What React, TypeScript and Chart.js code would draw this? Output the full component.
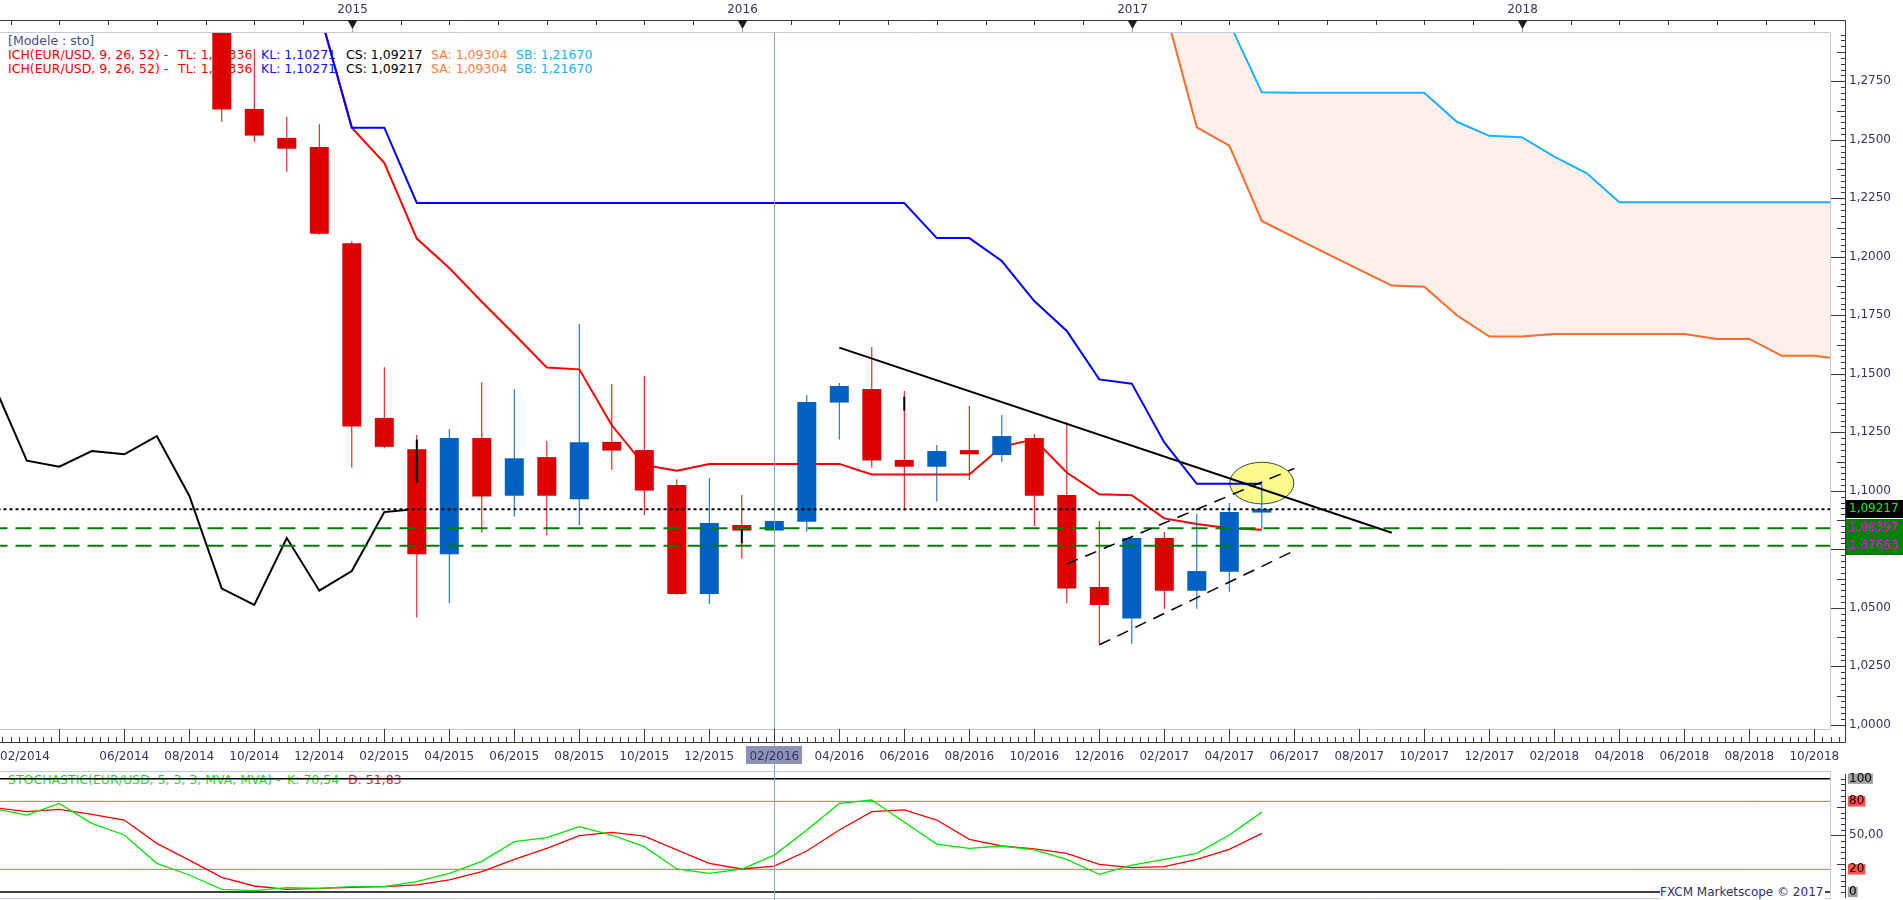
import React, { useEffect, useRef } from 'react';
import { Chart, registerables } from 'chart.js';

Chart.register(...registerables);

// Time is a month index: 0 = 01/2014, 12 = 01/2015, 24 = 01/2016 ...
const CANDLE_T = [8, 9, 10, 11, 12, 13, 14, 15, 16, 17, 18, 19, 20, 21, 22, 23, 24, 25, 26, 27, 28, 29, 30, 31, 32, 33, 34, 35, 36, 37, 38, 39, 40];
const OPEN = [1.3130, 1.2632, 1.2508, 1.2469, 1.2058, 1.1311, 1.1178, 1.0729, 1.1226, 1.0979, 1.1144, 1.0964, 1.1209, 1.1174, 1.1025, 1.0559, 1.0854, 1.0830, 1.0868, 1.1377, 1.1435, 1.1132, 1.1103, 1.1174, 1.1153, 1.1226, 1.0982, 1.0589, 1.0454, 1.0798, 1.0573, 1.0654, 1.0907];
const HIGH = [1.3190, 1.2887, 1.2598, 1.2567, 1.2066, 1.1528, 1.1239, 1.1263, 1.1464, 1.1435, 1.1213, 1.1713, 1.1456, 1.1491, 1.1049, 1.1055, 1.0982, 1.0871, 1.1409, 1.1461, 1.1615, 1.1427, 1.1196, 1.1362, 1.1324, 1.1243, 1.1293, 1.0871, 1.0804, 1.0824, 1.0901, 1.0948, 1.1025];
const LOW = [1.2577, 1.2492, 1.2364, 1.2095, 1.1100, 1.1182, 1.0459, 1.0521, 1.0822, 1.0889, 1.0809, 1.0853, 1.1089, 1.0897, 1.0557, 1.0516, 1.0710, 1.0830, 1.0825, 1.1219, 1.1099, 1.0915, 1.0954, 1.1046, 1.1123, 1.0850, 1.0519, 1.0345, 1.0345, 1.0496, 1.0496, 1.0569, 1.0838];
const CLOSE = [1.2629, 1.2518, 1.2462, 1.2099, 1.1275, 1.1188, 1.0729, 1.1226, 1.0976, 1.1139, 1.0979, 1.1208, 1.1172, 1.1001, 1.0559, 1.0862, 1.0830, 1.0871, 1.1380, 1.1448, 1.1129, 1.1103, 1.1170, 1.1156, 1.1234, 1.0979, 1.0582, 1.0512, 1.0798, 1.0573, 1.0657, 1.0909, 1.0922];

const MARK_T = [14, 24, 29];
const MARK_LOW = [1.1035, 1.0776, 1.1342];
const MARK_HIGH = [1.1219, 1.0840, 1.1402];

const TENKAN_T = [11, 12, 13, 14, 15, 16, 17, 18, 19, 20, 21, 22, 23, 24, 25, 26, 27, 28, 29, 30, 31, 32, 33, 34, 35, 36, 37, 38, 39, 40];
const TENKAN = [1.3050, 1.2552, 1.2402, 1.2078, 1.1952, 1.1808, 1.1669, 1.1527, 1.1519, 1.1280, 1.1110, 1.1086, 1.1115, 1.1115, 1.1115, 1.1115, 1.1115, 1.1070, 1.1070, 1.1070, 1.1070, 1.1189, 1.1220, 1.1078, 1.0985, 1.0981, 1.0882, 1.0858, 1.0840, 1.0834];

const KIJUN_T = [11, 12, 13, 14, 15, 16, 17, 18, 19, 20, 21, 22, 23, 24, 25, 26, 27, 28, 29, 30, 31, 32, 33, 34, 35, 36, 37, 38, 39, 40];
const KIJUN = [1.3050, 1.2552, 1.2552, 1.2230, 1.2230, 1.2230, 1.2230, 1.2230, 1.2230, 1.2230, 1.2230, 1.2230, 1.2230, 1.2230, 1.2230, 1.2230, 1.2230, 1.2230, 1.2230, 1.2080, 1.2080, 1.1982, 1.1811, 1.1683, 1.1476, 1.1458, 1.1207, 1.1030, 1.1030, 1.1030];

const CHIKOU_T = [0, 1, 2, 3, 4, 5, 6, 7, 8, 9, 10, 11, 12, 13, 14];
const CHIKOU = [1.1380, 1.1448, 1.1129, 1.1103, 1.1170, 1.1156, 1.1234, 1.0979, 1.0582, 1.0512, 1.0798, 1.0573, 1.0657, 1.0909, 1.0922];

const SENKOU_T = [37, 38, 39, 40, 41, 42, 43, 44, 45, 46, 47, 48, 49, 50, 51, 52, 53, 54, 55, 56, 57, 58];
const SENKOU_A = [1.3070, 1.2553, 1.2475, 1.2153, 1.2083, 1.2014, 1.1945, 1.1877, 1.1872, 1.1750, 1.1659, 1.1659, 1.1670, 1.1670, 1.1670, 1.1670, 1.1670, 1.1649, 1.1649, 1.1577, 1.1577, 1.1560];
const SENKOU_B = [1.3300, 1.3200, 1.3000, 1.2703, 1.2701, 1.2701, 1.2701, 1.2701, 1.2701, 1.2577, 1.2517, 1.2511, 1.2428, 1.2357, 1.2233, 1.2233, 1.2233, 1.2233, 1.2233, 1.2233, 1.2233, 1.2233];

const LAST_CLOSE = 1.09217;
const SUPPORT_LEVELS = [1.08397, 1.07653];
const TREND_T = [27, 44];
const TREND_V = [1.1612, 1.0821];
const CHANNEL_UP_T = [34, 41];
const CHANNEL_UP_V = [1.0687, 1.1096];
const CHANNEL_LO_T = [35, 41];
const CHANNEL_LO_V = [1.0342, 1.0744];
const HIGHLIGHT_T = 40.0;
const HIGHLIGHT_V = 1.1033;
const HIGHLIGHT_HALF_T = 0.985;
const HIGHLIGHT_HALF_V = 0.0089;
const CURSOR_T = 25;

const STOCH_T = [1, 2, 3, 4, 5, 6, 7, 8, 9, 10, 11, 12, 13, 14, 15, 16, 17, 18, 19, 20, 21, 22, 23, 24, 25, 26, 27, 28, 29, 30, 31, 32, 33, 34, 35, 36, 37, 38, 39, 40];
const STOCH_K = [73.4, 67.9, 78.2, 60.6, 50.3, 25.3, 15.0, 2.4, 1.2, 3.8, 3.2, 4.7, 4.7, 9.1, 16.5, 27.0, 44.4, 47.9, 57.6, 50.3, 40.0, 20.3, 16.5, 20.3, 32.6, 54.7, 78.2, 81.2, 61.5, 42.3, 38.5, 40.6, 37.1, 28.8, 15.6, 23.8, 28.8, 34.1, 50.3, 70.5];
const STOCH_D = [74.4, 70.9, 72.9, 68.5, 63.5, 42.9, 28.2, 12.9, 5.3, 2.4, 3.2, 4.1, 4.7, 6.2, 10.6, 17.9, 28.8, 38.5, 49.7, 52.6, 49.4, 37.1, 25.3, 20.3, 22.9, 36.2, 54.7, 70.9, 72.4, 63.5, 46.5, 40.6, 38.0, 34.1, 24.4, 21.5, 22.4, 28.8, 37.6, 51.8];
const STOCH_OUTER = [100, 0];
const STOCH_INNER = [80, 20];

const X_MIN = 1.1754;
const X_MAX = 57.483;
const Y_MIN = 0.99821;
const Y_MAX = 1.29607;
const STOCH_MIN = -5.3;
const STOCH_MAX = 106.8;

const MONTH_TICK_T = [5, 7, 9, 11, 13, 15, 17, 19, 21, 23, 25, 27, 29, 31, 33, 35, 37, 39, 41, 43, 45, 47, 49, 51, 53, 55, 57];
const MONTH_TICK_LABELS = ['06/2014', '08/2014', '10/2014', '12/2014', '02/2015', '04/2015', '06/2015', '08/2015', '10/2015', '12/2015', '02/2016', '04/2016', '06/2016', '08/2016', '10/2016', '12/2016', '02/2017', '04/2017', '06/2017', '08/2017', '10/2017', '12/2017', '02/2018', '04/2018', '06/2018', '08/2018', '10/2018'];
const FIRST_MONTH_LABEL = '02/2014';
const YEAR_T = [12, 24, 36, 48];
const YEAR_LABELS = ['2015', '2016', '2017', '2018'];
const PRICE_TICKS = [1.0, 1.025, 1.05, 1.075, 1.1, 1.125, 1.15, 1.175, 1.2, 1.225, 1.25, 1.275];
const PRICE_TICK_LABELS = ['1,0000', '1,0250', '1,0500', '1,0750', '1,1000', '1,1250', '1,1500', '1,1750', '1,2000', '1,2250', '1,2500', '1,2750'];
const PRICE_MARKERS = [1.09217, 1.08397, 1.07653];
const PRICE_MARKER_LABELS = ['1,09217', '1,08397', '1,07653'];
const STOCH_TICKS = [0, 20, 50, 80, 100];
const STOCH_TICK_LABELS = ['0', '20', '50,00', '80', '100'];

const FONT = '"DejaVu Sans", Verdana, sans-serif';
const AXIS_TEXT = '#34345e';
const AXIS_DARK = '#3a3a3a';
const FRAME_LIGHT = '#c2cadb';
const BULL = '#0061c2';
const BEAR = '#dc0000';
const CLOUD = '#fdefe9';
const CURSOR_COLOR = '#8f9dca';

Chart.defaults.font.family = FONT;
Chart.defaults.font.size = 12;

const pts = (ts: number[], vs: number[]) => ts.map((t, i) => ({ x: t, y: vs[i] }));
const crisp = (v: number) => Math.round(v) + 0.5;
const flat = (v: number) => [{ x: X_MIN - 1, y: v }, { x: X_MAX + 1, y: v }];

const mainDecor = {
  id: 'mainDecor',
  beforeDraw(chart: any) {
    const { ctx } = chart;
    const cx = Math.round(chart.scales.x.getPixelForValue(CURSOR_T));
    ctx.save();
    ctx.fillStyle = '#8b93b8';
    ctx.fillRect(cx - 28, 746, 56, 18);
    ctx.restore();
  },
  beforeDatasetsDraw(chart: any) {
    const { ctx } = chart;
    const { x, y } = chart.scales;
    const cx = x.getPixelForValue(HIGHLIGHT_T);
    const cy = y.getPixelForValue(HIGHLIGHT_V);
    const rx = Math.abs(x.getPixelForValue(HIGHLIGHT_T + HIGHLIGHT_HALF_T) - cx);
    const ry = Math.abs(y.getPixelForValue(HIGHLIGHT_V + HIGHLIGHT_HALF_V) - cy);
    ctx.save();
    ctx.beginPath();
    ctx.ellipse(cx, cy, rx, ry, 0, 0, Math.PI * 2);
    ctx.fillStyle = '#fbfb8d';
    ctx.fill();
    ctx.lineWidth = 1;
    ctx.strokeStyle = '#444444';
    ctx.stroke();
    ctx.restore();
  },
  afterDatasetsDraw(chart: any) {
    const { ctx, chartArea: a } = chart;
    const cx = crisp(chart.scales.x.getPixelForValue(CURSOR_T));
    ctx.save();
    ctx.strokeStyle = CURSOR_COLOR;
    ctx.lineWidth = 1;
    ctx.beginPath();
    ctx.moveTo(cx, a.top);
    ctx.lineTo(cx, 746);
    ctx.moveTo(cx, 764);
    ctx.lineTo(cx, chart.height);
    ctx.stroke();
    ctx.restore();
  },
  afterDraw(chart: any) {
    const { ctx, chartArea: a } = chart;
    const { x, y } = chart.scales;
    const axisX = a.right + 15;
    const topY = 20;
    const bottomY = a.bottom + 13;
    ctx.save();
    ctx.lineWidth = 1;
    ctx.strokeStyle = FRAME_LIGHT;
    ctx.beginPath();
    ctx.moveTo(0, a.top + 0.5);
    ctx.lineTo(a.right + 0.5, a.top + 0.5);
    ctx.lineTo(a.right + 0.5, a.bottom + 0.5);
    ctx.lineTo(0, a.bottom + 0.5);
    ctx.stroke();

    ctx.strokeStyle = AXIS_DARK;
    ctx.beginPath();
    ctx.moveTo(0, topY + 0.5);
    ctx.lineTo(axisX + 0.5, topY + 0.5);
    ctx.lineTo(axisX + 0.5, bottomY + 0.5);
    ctx.lineTo(0, bottomY + 0.5);
    for (let k = -30; k < 60; k++) {
      const px = x.getPixelForValue(YEAR_T[0] + 1.5 * k);
      if (px < 0 || px > axisX) continue;
      ctx.moveTo(crisp(px), topY);
      ctx.lineTo(crisp(px), topY + 5);
    }
    for (let q = Math.ceil(X_MIN * 4); ; q++) {
      const px = x.getPixelForValue(q / 4);
      if (px > axisX) break;
      const major = q % 8 === 4;
      ctx.moveTo(crisp(px), major ? a.bottom : bottomY - 5);
      ctx.lineTo(crisp(px), bottomY);
    }
    for (let i = Math.ceil(Y_MIN / 0.0025); i * 0.0025 <= Y_MAX; i++) {
      const py = crisp(y.getPixelForValue(i * 0.0025));
      const len = i % 10 === 0 ? 14 : i % 5 === 0 ? 8 : 4;
      ctx.moveTo(axisX - len, py);
      ctx.lineTo(axisX + 1, py);
    }
    ctx.stroke();

    ctx.font = `12px ${FONT}`;
    YEAR_T.forEach((t, i) => {
      const px = crisp(x.getPixelForValue(t));
      ctx.fillStyle = '#1e1e1e';
      ctx.beginPath();
      ctx.moveTo(px - 5, topY);
      ctx.lineTo(px + 5, topY);
      ctx.lineTo(px, topY + 9);
      ctx.closePath();
      ctx.fill();
      ctx.strokeStyle = '#9aa3b8';
      ctx.beginPath();
      ctx.moveTo(px, topY + 9);
      ctx.lineTo(px, a.top);
      ctx.stroke();
      ctx.fillStyle = AXIS_TEXT;
      ctx.textAlign = 'center';
      ctx.textBaseline = 'middle';
      ctx.fillText(YEAR_LABELS[i], px, 10);
    });

    const bg = ['#000000', '#008000', '#008000'];
    const fg = ['#00ff00', '#ff00ff', '#ff00ff'];
    PRICE_MARKERS.forEach((v, i) => {
      const py = y.getPixelForValue(v);
      ctx.fillStyle = bg[i];
      ctx.fillRect(axisX + 1, Math.round(py) - 9, chart.width - axisX - 1, 18);
    });
    PRICE_MARKERS.forEach((v, i) => {
      const py = y.getPixelForValue(v);
      ctx.fillStyle = fg[i];
      ctx.textAlign = 'left';
      ctx.textBaseline = 'middle';
      ctx.fillText(PRICE_MARKER_LABELS[i], a.right + 19, py);
    });
    ctx.restore();
  },
};

const stochDecor = {
  id: 'stochDecor',
  afterDatasetsDraw(chart: any) {
    const { ctx } = chart;
    const cx = crisp(chart.scales.x.getPixelForValue(CURSOR_T));
    ctx.save();
    ctx.strokeStyle = CURSOR_COLOR;
    ctx.lineWidth = 1;
    ctx.beginPath();
    ctx.moveTo(cx, 0);
    ctx.lineTo(cx, chart.height);
    ctx.stroke();
    ctx.restore();
  },
  afterDraw(chart: any) {
    const { ctx, chartArea: a } = chart;
    const y = chart.scales.y;
    const axisX = a.right + 15;
    ctx.save();
    ctx.lineWidth = 1;
    ctx.strokeStyle = FRAME_LIGHT;
    ctx.beginPath();
    ctx.moveTo(0, a.top + 0.5);
    ctx.lineTo(a.right + 0.5, a.top + 0.5);
    ctx.lineTo(a.right + 0.5, a.bottom + 0.5);
    ctx.lineTo(0, a.bottom + 0.5);
    ctx.stroke();
    ctx.strokeStyle = AXIS_DARK;
    ctx.beginPath();
    ctx.moveTo(axisX + 0.5, 3);
    ctx.lineTo(axisX + 0.5, a.bottom);
    for (let v = 0; v <= 100; v += 5) {
      const py = crisp(y.getPixelForValue(v));
      const len = v === 50 ? 14 : v === 25 || v === 75 ? 8 : 4;
      ctx.moveTo(axisX - len, py);
      ctx.lineTo(axisX + 1, py);
    }
    ctx.stroke();
    ctx.restore();
  },
};

const zeroPad = (s: any) => {
  s.paddingTop = 0;
  s.paddingBottom = 0;
  s.paddingLeft = 0;
  s.paddingRight = 0;
};

function mainConfig(): any {
  const colors = CANDLE_T.map((_, i) => (CLOSE[i] >= OPEN[i] ? BULL : BEAR));
  const line = (data: any, color: string, width: number, order: number, extra: any = {}) => ({
    type: 'line', data, borderColor: color, borderWidth: width, pointRadius: 0, tension: 0, fill: false, order, ...extra,
  });
  return {
    type: 'line',
    data: {
      datasets: [
        line(pts(SENKOU_T, SENKOU_A), '#ff6a28', 2, 30, { label: 'Senkou A', fill: { target: 1, above: CLOUD, below: CLOUD } }),
        line(pts(SENKOU_T, SENKOU_B), '#1cb0ff', 2, 29, { label: 'Senkou B' }),
        line(pts(CHIKOU_T, CHIKOU), '#000000', 2, 28, { label: 'Chikou' }),
        line(pts(TENKAN_T, TENKAN), '#ff0000', 2, 27, { label: 'Tenkan' }),
        line(pts(KIJUN_T, KIJUN), '#0000ff', 2, 26, { label: 'Kijun' }),
        {
          type: 'bar', label: 'Wicks', order: 12, grouped: false, barThickness: 1, borderWidth: 0, inflateAmount: 0,
          data: CANDLE_T.map((t, i) => ({ x: t, y: [LOW[i], HIGH[i]] })), backgroundColor: colors,
        },
        {
          type: 'bar', label: 'Bodies', order: 11, grouped: false, barThickness: 19, borderWidth: 0, inflateAmount: 0,
          data: CANDLE_T.map((t, i) => ({ x: t, y: [OPEN[i], CLOSE[i]] })), backgroundColor: colors,
        },
        {
          type: 'bar', label: 'Marks', order: 10, grouped: false, barThickness: 2, borderWidth: 0, inflateAmount: 0,
          data: MARK_T.map((t, i) => ({ x: t, y: [MARK_LOW[i], MARK_HIGH[i]] })), backgroundColor: '#000000',
        },
        line(flat(LAST_CLOSE), '#000000', 2, 6, { label: 'Last', borderDash: [3, 3] }),
        line(flat(SUPPORT_LEVELS[0]), '#008000', 2, 6, { label: 'S1', borderDash: [16, 8] }),
        line(flat(SUPPORT_LEVELS[1]), '#008000', 2, 6, { label: 'S2', borderDash: [16, 8] }),
        line(pts(TREND_T, TREND_V), '#000000', 2, 4, { label: 'Trend' }),
        line(pts(CHANNEL_UP_T, CHANNEL_UP_V), '#000000', 1.5, 4, { label: 'ChUp', borderDash: [12, 8] }),
        line(pts(CHANNEL_LO_T, CHANNEL_LO_V), '#000000', 1.5, 4, { label: 'ChLo', borderDash: [12, 8] }),
      ],
    },
    options: {
      responsive: false,
      animation: false,
      events: [],
      layout: { padding: { top: 32, left: 0, right: 0, bottom: 0 }, autoPadding: false },
      plugins: { legend: { display: false }, tooltip: { enabled: false }, filler: { propagate: false } },
      scales: {
        x: {
          type: 'linear', min: X_MIN, max: X_MAX, bounds: 'data', offset: false,
          grid: { display: false, drawTicks: false }, border: { display: false },
          afterBuildTicks: (s: any) => {
            s.ticks = [{ value: X_MIN }, ...MONTH_TICK_T.map((v) => ({ value: v })), { value: X_MAX }];
          },
          afterFit: (s: any) => { s.height = 42; zeroPad(s); },
          ticks: {
            autoSkip: false, maxRotation: 0, minRotation: 0, align: 'inner', padding: 21,
            color: AXIS_TEXT, font: { family: FONT, size: 12 },
            callback: (_v: any, i: number) => (i === 0 ? FIRST_MONTH_LABEL : MONTH_TICK_LABELS[i - 1] || ''),
          },
        },
        y: {
          type: 'linear', position: 'right', min: Y_MIN, max: Y_MAX, bounds: 'data',
          grid: { display: false, drawTicks: false }, border: { display: false },
          afterBuildTicks: (s: any) => { s.ticks = PRICE_TICKS.map((v) => ({ value: v })); },
          afterFit: (s: any) => { s.width = 73; zeroPad(s); },
          ticks: {
            autoSkip: false, padding: 19, color: AXIS_TEXT, font: { family: FONT, size: 12 },
            callback: (_v: any, i: number) => PRICE_TICK_LABELS[i],
          },
        },
      },
    },
    plugins: [mainDecor],
  };
}

function stochConfig(): any {
  const line = (data: any, color: string, width: number, order: number) => ({
    type: 'line', data, borderColor: color, borderWidth: width, pointRadius: 0, tension: 0, fill: false, order,
  });
  const bgs = ['#a0a0a0', '#ff5050', 'transparent', '#ff5050', '#a0a0a0'];
  const fgs = ['#000000', '#000000', AXIS_TEXT, '#000000', '#000000'];
  return {
    type: 'line',
    data: {
      datasets: [
        ...STOCH_OUTER.map((v) => line(flat(v), '#000000', 1.6, 9)),
        ...STOCH_INNER.map((v) => line(flat(v), '#ff5a5a', 1, 8)),
        line(pts(STOCH_T, STOCH_D), '#ff0000', 1.3, 2),
        line(pts(STOCH_T, STOCH_K), '#00e600', 1.3, 1),
      ],
    },
    options: {
      responsive: false,
      animation: false,
      events: [],
      layout: { padding: { top: 0, left: 0, right: 0, bottom: 2 }, autoPadding: false },
      plugins: { legend: { display: false }, tooltip: { enabled: false } },
      scales: {
        x: { type: 'linear', display: false, min: X_MIN, max: X_MAX, bounds: 'data', offset: false },
        y: {
          type: 'linear', position: 'right', min: STOCH_MIN, max: STOCH_MAX, bounds: 'data',
          grid: { display: false, drawTicks: false }, border: { display: false },
          afterBuildTicks: (s: any) => { s.ticks = STOCH_TICKS.map((v) => ({ value: v })); },
          afterFit: (s: any) => { s.width = 73; zeroPad(s); },
          ticks: {
            autoSkip: false, padding: 19, font: { family: FONT, size: 12 },
            callback: (_v: any, i: number) => STOCH_TICK_LABELS[i],
            color: (c: any) => fgs[c.index] || AXIS_TEXT,
            showLabelBackdrop: true,
            backdropColor: (c: any) => bgs[c.index] || 'transparent',
            backdropPadding: { top: -2, bottom: -2, left: 1, right: 1 },
          },
        },
      },
    },
    plugins: [stochDecor],
  };
}

const txt = (left: number, cy: number, color: string, text: string, size = 12.5, z = 0, extra: any = {}) => (
  <div
    style={{
      position: 'absolute', left, top: cy - 7, height: 14, lineHeight: '14px', fontSize: size,
      fontFamily: FONT, color, whiteSpace: 'pre', zIndex: z, ...extra,
    }}
  >
    {text}
  </div>
);

export default function App() {
  const mainRef = useRef<HTMLCanvasElement>(null);
  const stochRef = useRef<HTMLCanvasElement>(null);

  useEffect(() => {
    const main = new Chart(mainRef.current as any, mainConfig());
    const stoch = new Chart(stochRef.current as any, stochConfig());
    return () => {
      main.destroy();
      stoch.destroy();
    };
  }, []);

  const ichLine = (cy: number, key: string) => (
    <React.Fragment key={key}>
      {txt(8, cy, '#ff0000', 'ICH(EUR/USD, 9, 26, 52) - ')}
      {txt(178, cy, '#ff0000', 'TL: 1,08336')}
      {txt(261, cy, '#1010ff', 'KL: 1,10271')}
      {txt(346, cy, '#000000', 'CS: 1,09217')}
      {txt(431, cy, '#ff8040', 'SA: 1,09304')}
      {txt(516, cy, '#20b0ff', 'SB: 1,21670')}
    </React.Fragment>
  );

  return (
    <div
      style={{
        position: 'absolute', left: 0, top: 0, width: 1903, height: 900, background: '#ffffff',
        overflow: 'hidden', fontFamily: FONT,
      }}
    >
      {txt(8, 41, '#3f4f92', '[Modele : sto]')}
      {ichLine(54.5, 'a')}
      {ichLine(68.5, 'b')}
      {txt(8, 779.5, '#19e019', 'STOCHASTIC(EUR/USD, 5, 3, 3, MVA, MVA) -')}
      {txt(287, 779.5, '#19e019', 'K: 70,54')}
      {txt(348, 779.5, '#ff1a1a', 'D: 51,83')}
      <canvas ref={mainRef} width={1903} height={771} style={{ position: 'absolute', left: 0, top: 0, zIndex: 1 }} />
      <canvas ref={stochRef} width={1903} height={129} style={{ position: 'absolute', left: 0, top: 771, zIndex: 1 }} />
      {txt(1660, 892, '#2e2e6e', 'FXCM Marketscope © 2017', 12, 2, { background: '#ffffff', paddingRight: 2 })}
    </div>
  );
}
